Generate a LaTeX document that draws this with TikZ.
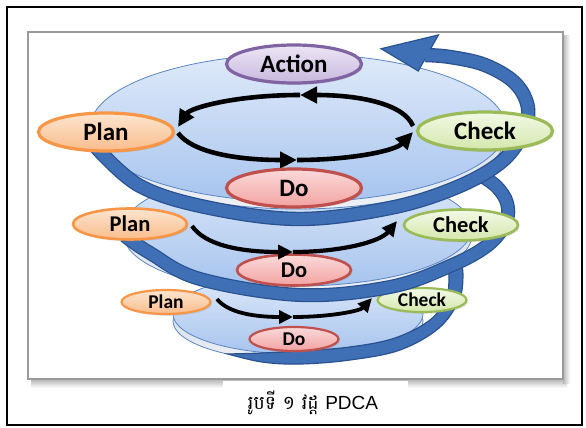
\documentclass[tikz,border=0pt]{standalone}
\usepackage{fontspec}
\setmainfont{Carlito}
\newfontfamily\khmerfont[Script=Khmer]{Battambang}
\newfontfamily\capsans{Liberation Sans}
\usetikzlibrary{shapes.geometric,arrows.meta,shadows}

\definecolor{bandF}{HTML}{3F6FB5}
\definecolor{bandE}{HTML}{2A5291}
\definecolor{discT}{HTML}{DFEAF9}
\definecolor{discB}{HTML}{A7C4EE}
\definecolor{discE}{HTML}{5B87C5}
\definecolor{rimT}{HTML}{C9D3E0}
\definecolor{rimB}{HTML}{EEF1F5}
\definecolor{planE}{HTML}{F79646}
\definecolor{planT}{HTML}{FDE5CF}
\definecolor{planB}{HTML}{F9BC8C}
\definecolor{doE}{HTML}{C0504D}
\definecolor{doT}{HTML}{FADADA}
\definecolor{doB}{HTML}{F2A3A1}
\definecolor{chkE}{HTML}{9BBB59}
\definecolor{chkT}{HTML}{F3F9E6}
\definecolor{chkB}{HTML}{D4E7AC}
\definecolor{actE}{HTML}{8064A2}
\definecolor{actT}{HTML}{EDE6F5}
\definecolor{actB}{HTML}{C8B8DE}
\definecolor{frameE}{HTML}{9A9A9A}

\begin{document}
\begin{tikzpicture}[x=1pt,y=-1pt,
  nd/.style={ellipse, inner sep=0pt, text=black,
    drop shadow={opacity=0.22, shadow xshift=1.5pt, shadow yshift=-1.8pt}},
  big/.style={minimum width=135pt, minimum height=38pt, line width=3.2pt,
    font=\bfseries\fontsize{25}{25}\selectfont},
  med/.style={minimum width=114pt, minimum height=31pt, line width=2.6pt,
    font=\bfseries\fontsize{22.5}{22.5}\selectfont},
  sml/.style={minimum width=89pt, minimum height=24pt, line width=2.2pt,
    font=\bfseries\fontsize{19.5}{19.5}\selectfont},
  plan/.style={nd, draw=planE, top color=planT, bottom color=planB},
  donode/.style={nd, draw=doE, top color=doT, bottom color=doB},
  chk/.style={nd, draw=chkE, top color=chkT, bottom color=chkB},
  act/.style={nd, draw=actE, top color=actT, bottom color=actB},
  blkA/.style={line width=4.6pt, -{Triangle[length=17pt,width=16pt]}},
  blkB/.style={line width=4.2pt, -{Triangle[length=15pt,width=14pt]}},
  blkC/.style={line width=3.8pt, -{Triangle[length=14pt,width=13pt]}},
  disc/.style={draw=discE, line width=0.8pt, top color=discT, bottom color=discB},
  rim/.style={draw=discE, line width=0.8pt, top color=rimT, bottom color=rimB},
  bandline/.style={draw=bandF, line width=11.5pt, preaction={draw=bandE, line width=14pt}},
]
\useasboundingbox (0,0) rectangle (586,428);
\fill[white] (0,0) rectangle (586,428);

% frame and shadow
\shade[top color=black!28, bottom color=white] (31,379.5) rectangle (567,388);
\shade[left color=black!28, right color=white] (563,36) rectangle (570,383);
\draw[frameE, line width=1.5pt, fill=white] (28,32) rectangle (563,379);
\fill[white] (223,380.8) rectangle (408,399);

% ---------- bottom level ----------
\path[rim] (298,321) ellipse [x radius=125, y radius=40];
\path[disc] (298,314) ellipse [x radius=125, y radius=40];
\filldraw[fill=bandF, draw=bandE, line width=1.2pt]
  plot[smooth, tension=0.6] coordinates {(228,354) (262,362) (300,364) (350,360) (400,350) (439,328) (459,300) (463,276) (461,262)}
  -- plot[smooth, tension=0.6] coordinates {(447,262) (449,278) (446,298) (430,320) (395,338) (350,347) (300,351) (262,353) (228,354)}
  -- cycle;
\coordinate (c3a) at (217,299);
\coordinate (c3b) at (293,317);
\coordinate (c3c) at (372,298);
\node[plan, sml] (plan3) at (166,302) {Plan};
\node[chk, sml] (check3) at (422,300) {Check};
\node[donode, sml] (do3) at (294,339) {Do};
\draw[blkC] (c3a) .. controls (228,313) and (255,317) .. (c3b);
\draw[blkC] (c3b) .. controls (330,317) and (360,311) .. (c3c);

% ---------- middle level ----------
\path[rim] (298,235) ellipse [x radius=174, y radius=58];
\path[disc] (298,228) ellipse [x radius=174, y radius=58];
\draw[bandline] plot[smooth, tension=0.6] coordinates {(125,236) (150,253) (200,279) (300,295) (390,287) (450,266) (488,245) (506,222) (507,203) (497,187) (482,176)};
\coordinate (c2a) at (192,226);
\coordinate (c2b) at (293,252);
\coordinate (c2c) at (397,221);
\node[plan, med] (plan2) at (130,224) {Plan};
\node[chk, med] (check2) at (461,225) {Check};
\node[donode, med] (do2) at (294,270) {Do};
\draw[blkB] (c2a) .. controls (205,245) and (240,252) .. (c2b);
\draw[blkB] (c2b) .. controls (340,252) and (380,242) .. (c2c);

% ---------- top level ----------
\path[rim] (298,135) ellipse [x radius=208, y radius=74];
\path[disc] (298,128) ellipse [x radius=208, y radius=74];
% spiral band with arrow head
\draw[bandE, line width=14.4pt] plot[smooth, tension=0.6] coordinates {(95,146) (140,186) (210,208) (300,219) (390,208) (455,188) (500,163) (522,135) (528,108) (515,83) (485,65) (450,57) (425,55)};
\filldraw[fill=bandE, draw=bandE, line width=2.6pt, line join=miter] (383,49) -- (437,36) -- (418,70) -- cycle;
\draw[bandF, line width=11.8pt] plot[smooth, tension=0.6] coordinates {(95,146) (140,186) (210,208) (300,219) (390,208) (455,188) (500,163) (522,135) (528,108) (515,83) (485,65) (450,57) (425,55)};
\fill[bandF] (383,49) -- (437,36) -- (418,70) -- cycle;

\coordinate (c1a) at (178,133);
\coordinate (c1b) at (297,160);
\coordinate (c1c) at (413,132);
\coordinate (c1d) at (413,126);
\coordinate (c1e) at (300,95);
\coordinate (c1f) at (178,127);
\draw[blkA] (c1a) .. controls (192,152) and (235,160) .. (c1b);
\draw[blkA] (c1b) .. controls (350,160) and (395,151) .. (c1c);
\draw[blkA] (c1d) .. controls (404,104) and (360,95) .. (c1e);
\draw[blkA] (c1e) .. controls (235,95) and (190,108) .. (c1f);
\node[act, big] (action) at (294,64) {Action};
\node[plan, big] (plan1) at (106,132) {Plan};
\node[chk, big] (check1) at (485,131) {Check};
\node[donode, big] (do1) at (294,188) {Do};

% caption
\node[anchor=base, inner sep=0pt] (cap) at (313,409) {\khmerfont\fontsize{19}{19}\selectfont រូបទី ១ វដ្ត \capsans PDCA};

% outer border
\draw[line width=2.5pt] (7,7) rectangle (582,425);
\end{tikzpicture}
\end{document}
